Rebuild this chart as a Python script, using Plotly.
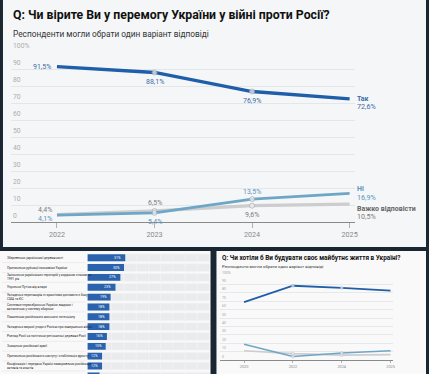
import plotly.graph_objects as go

W, H = 429, 374
FONT = "Roboto"


def px(x):
    return x / W


def py(y):
    return 1 - y / H


# ---------------- main chart data ----------------
main_title = "Q: Чи вірите Ви у перемогу України у війні проти Росії?"
main_subtitle = "Респонденти могли обрати один варіант відповіді"
years = [2022, 2023, 2024, 2025]
tak = [91.5, 88.1, 76.9, 72.6]
ni = [4.1, 5.4, 13.5, 16.9]
vazhko = [4.4, 6.5, 9.6, 10.5]
y_ticks = [0, 10, 20, 30, 40, 50, 60, 70, 80, 90, 100]
y_tick_labels = ["0", "10", "20", "30", "40", "50", "60", "70", "80", "90", "100%"]

# ---------------- bottom-left bar chart data ----------------
bar_labels = [
    "Збереження української державності",
    "Припинення руйнації економіки України",
    "Звільнення українських територій у кордонах станом на<br>1991 рік",
    "Усунення Путіна від влади",
    "Укладення переговорів з гарантіями допомоги з боку<br>США та ЄС",
    "Системне переозброєння України завдяки і<br>включенню у систему оборони",
    "Поваленню російського воєнного потенціалу",
    "Укладення мирної угоди з Росією про завершення війни",
    "Розпад Росії на політично-регіональні держави Росії",
    "Знищення російської армії",
    "Припинення російського наступу і стабілізація фронту",
    "Конфіскація і передача Україні заморожених російських<br>активів та коштів",
    "",
]
bar_values = [31, 30, 27, 23, 19, 18, 18, 18, 16, 15, 12, 12, 10]

# ---------------- bottom-right line chart data ----------------
r_title = "Q: Чи хотіли б Ви будувати своє майбутнє життя в Україні?"
r_subtitle = "Респонденти могли обрати один варіант відповіді"
r_years = ["2020", "2022", "2024", "2025"]
r_tak = [69.0, 88.4, 85.9, 82.7]
r_ni = [18.7, 4.1, 8.2, 10.9]
r_vazhko = [11.0, 7.6, 5.8, 6.4]

# ---------------- styles ----------------
DARK = "#1b2633"
MAIN_BG = "#f5f6f8"
PANEL_BG = "#f9f9fa"
C_TAK, C_NI, C_VZ = "#1f5ea8", "#6ea6c6", "#cdcdcd"
L_TAK, L_NI, L_VZ = "#3d6ca6", "#5b95ba", "#7c7c7c"

fig = go.Figure()

# panel backgrounds
fig.add_shape(type="rect", xref="paper", yref="paper", x0=px(3), x1=1, y0=py(247), y1=1,
              fillcolor=MAIN_BG, line_width=0, layer="below")
fig.add_shape(type="rect", xref="paper", yref="paper", x0=0, x1=px(212), y0=0, y1=py(251),
              fillcolor=PANEL_BG, line_width=0, layer="below")
fig.add_shape(type="rect", xref="paper", yref="paper", x0=px(218), x1=1, y0=0, y1=py(251),
              fillcolor=PANEL_BG, line_width=0, layer="below")

annotations = []

# y tick labels sitting above the gridlines
for tv, tl in zip(y_ticks, y_tick_labels):
    annotations.append(dict(x=px(11), y=tv, xref="paper", yref="y", text=tl, showarrow=False,
                            xanchor="left", yanchor="bottom", yshift=0,
                            font=dict(family=FONT, size=6.8, color="#adadad")))
    annotations.append(dict(x=px(221.7), y=tv, xref="paper", yref="y3", text=tl, showarrow=False,
                            xanchor="left", yanchor="bottom", yshift=-0.5,
                            font=dict(family=FONT, size=3.6, color="#a5a5a5")))

# ---------------- main line chart ----------------
series = [
    ("Важко відповісти", vazhko, C_VZ, L_VZ, 3.2, ["LA", "A", "B", None], -4.5),
    ("Ні", ni, C_NI, L_NI, 2.8, ["LB", "B", "A", None], 4),
    ("Так", tak, C_TAK, L_TAK, 3.3, ["L", "B", "B", None], 0),
]
msize = [0, 5, 5, 0]


def fmt(v):
    return f"{v:.1f}".replace(".", ",") + "%"


def place(code, small=False):
    k = 0.5 if small else 1.0
    if code == "L":
        return dict(xanchor="right", xshift=-4 * k, yshift=0)
    if code == "LA":
        return dict(xanchor="right", xshift=-3 * k, yshift=4.5 * k)
    if code == "LB":
        return dict(xanchor="right", xshift=-3 * k, yshift=-4 * k)
    if code == "A":
        return dict(xanchor="center", xshift=0, yshift=7.5 * k)
    if code == "B":
        return dict(xanchor="center", xshift=0, yshift=-9.3 * k)
    return None


for name, vals, col, lcol, lw, codes, end_shift in series:
    fig.add_trace(go.Scatter(
        x=years, y=vals, mode="lines+markers", name=name,
        line=dict(color=col, width=lw),
        marker=dict(size=msize, color=MAIN_BG, line=dict(color="#a9aeb5", width=1)),
        xaxis="x", yaxis="y", cliponaxis=False, hoverinfo="skip", showlegend=False,
    ))
    for xv, yv, code in zip(years, vals, codes):
        p = place(code)
        if p is None:
            continue
        annotations.append(dict(x=xv, y=yv, xref="x", yref="y", text=fmt(yv), showarrow=False,
                                font=dict(family=FONT, size=7, color=lcol), yanchor="middle", **p))
    annotations.append(dict(x=years[-1], y=vals[-1], xref="x", yref="y", text=f"<b>{name}</b>",
                            showarrow=False, xanchor="left", yanchor="middle", xshift=5,
                            yshift=end_shift,
                            font=dict(family=FONT, size=7, color=lcol if name != "Важко відповісти" else "#666")))
    annotations.append(dict(x=years[-1], y=vals[-1], xref="x", yref="y", text=fmt(vals[-1]),
                            showarrow=False, xanchor="left", yanchor="middle", xshift=5,
                            yshift=end_shift - 8, font=dict(family=FONT, size=7.2, color=lcol)))

annotations.append(dict(x=px(11), y=py(14.5), xref="paper", yref="paper", text=f"<b>{main_title}</b>",
                        showarrow=False, xanchor="left", yanchor="middle",
                        font=dict(family=FONT, size=12.3, color="#111111")))
annotations.append(dict(x=px(11), y=py(33.5), xref="paper", yref="paper", text=main_subtitle,
                        showarrow=False, xanchor="left", yanchor="middle",
                        font=dict(family=FONT, size=8.3, color="#333333")))

# ---------------- bottom-left bar chart ----------------
n = len(bar_values)
idx = list(range(n))
track_max = 100
seg = 10
for k in range(track_max // seg):
    fig.add_trace(go.Bar(
        y=idx, x=[seg] * n, base=[k * seg] * n, orientation="h", width=0.76, opacity=1,
        marker=dict(color="#eaebed", line=dict(color="#f3f4f6", width=0.6)),
        xaxis="x2", yaxis="y2", hoverinfo="skip", showlegend=False,
    ))
fig.add_trace(go.Bar(
    y=idx, x=bar_values, orientation="h", width=0.7, opacity=1,
    marker=dict(color="#2a62ad", line_width=0),
    xaxis="x2", yaxis="y2", hoverinfo="skip", showlegend=False,
))
for i, (lab, v) in enumerate(zip(bar_labels, bar_values)):
    annotations.append(dict(x=v, y=i, xref="x2", yref="y2", text=f"{v}%", showarrow=False,
                            xanchor="right", yanchor="middle", xshift=-2,
                            font=dict(family=FONT, size=3.6, color="white")))
    if not lab:
        continue
    annotations.append(dict(x=px(5), y=i, xref="paper", yref="y2", text=lab, showarrow=False,
                            xanchor="left", yanchor="middle", align="left",
                            font=dict(family=FONT, size=3.2, color="#222222")))
    fig.add_shape(type="line", xref="paper", yref="y2", x0=px(2), x1=px(86), y0=i + 0.5, y1=i + 0.5,
                  line=dict(color="#e4e4e4", width=0.6))

# ---------------- bottom-right line chart ----------------
r_series = [
    ("Важко відповісти", r_vazhko, C_VZ, L_VZ, 1.7, ["L", "A", "B", None], -3.3),
    ("Ні", r_ni, C_NI, L_NI, 1.5, ["L", "B", "A", None], 2.3),
    ("Так", r_tak, C_TAK, L_TAK, 1.8, ["L", "B", "B", None], 0),
]
r_msize = [0, 3, 3, 0]
for name, vals, col, lcol, lw, codes, end_shift in r_series:
    fig.add_trace(go.Scatter(
        x=r_years, y=vals, mode="lines+markers", name=name,
        line=dict(color=col, width=lw),
        marker=dict(size=r_msize, color=PANEL_BG, line=dict(color="#a9aeb5", width=0.6)),
        xaxis="x3", yaxis="y3", cliponaxis=False, hoverinfo="skip", showlegend=False,
    ))
    for xv, yv, code in zip(r_years, vals, codes):
        p = place(code, small=True)
        if p is None:
            continue
        annotations.append(dict(x=xv, y=yv, xref="x3", yref="y3", text=fmt(yv), showarrow=False,
                                font=dict(family=FONT, size=3.9, color=lcol), yanchor="middle", **p))
    annotations.append(dict(x=r_years[-1], y=vals[-1], xref="x3", yref="y3", text=f"<b>{name}</b>",
                            showarrow=False, xanchor="left", yanchor="middle", xshift=3,
                            yshift=end_shift,
                            font=dict(family=FONT, size=3.9, color=lcol if name != "Важко відповісти" else "#555")))
    annotations.append(dict(x=r_years[-1], y=vals[-1], xref="x3", yref="y3", text=fmt(vals[-1]),
                            showarrow=False, xanchor="left", yanchor="middle", xshift=3,
                            yshift=end_shift - 4, font=dict(family=FONT, size=3.9, color=lcol)))

annotations.append(dict(x=px(221.5), y=py(257.7), xref="paper", yref="paper", text=f"<b>{r_title}</b>",
                        showarrow=False, xanchor="left", yanchor="middle",
                        font=dict(family=FONT, size=6.4, color="#111111")))
annotations.append(dict(x=px(221.5), y=py(266.3), xref="paper", yref="paper", text=r_subtitle,
                        showarrow=False, xanchor="left", yanchor="middle",
                        font=dict(family=FONT, size=4.3, color="#333333")))

fig.update_layout(
    width=W, height=H,
    margin=dict(l=0, r=0, t=0, b=0),
    paper_bgcolor=DARK, plot_bgcolor="rgba(0,0,0,0)",
    barmode="overlay", showlegend=False,
    font=dict(family=FONT),
    annotations=annotations,
    # main
    xaxis=dict(domain=[px(11), px(357)], range=[2021.528, 2025.05], tickvals=years,
               ticktext=[str(y) for y in years], showgrid=False, zeroline=False,
               showline=True, linecolor="#8a8a8a", linewidth=1,
               ticks="outside", ticklen=5, tickcolor="#b0b0b0", tickwidth=1,
               tickfont=dict(family=FONT, size=7.2, color="#8a8a8a"), anchor="y"),
    yaxis=dict(domain=[py(222), py(52.3)], range=[0, 100], tickvals=y_ticks,
               showticklabels=False, showgrid=True, gridcolor="#e3e6ea", gridwidth=1,
               zeroline=False, showline=False, ticks="", anchor="x"),
    # bar chart
    xaxis2=dict(domain=[px(88), px(211)], range=[0, 100], visible=False, anchor="y2"),
    yaxis2=dict(domain=[0, py(251)], range=[11.81, -0.68], visible=False, anchor="x2"),
    # right line chart
    xaxis3=dict(domain=[px(221.7), px(396)], type="category", range=[-0.49, 3.055],
                showgrid=False, zeroline=False, showline=True, linecolor="#8a8a8a", linewidth=0.8,
                ticks="outside", ticklen=2.5, tickcolor="#b0b0b0", tickwidth=0.6,
                tickfont=dict(family=FONT, size=3.8, color="#8a8a8a"), anchor="y3"),
    yaxis3=dict(domain=[py(360), py(276)], range=[0, 100], tickvals=y_ticks,
                showticklabels=False, showgrid=True, gridcolor="#e6e8eb", gridwidth=0.6,
                zeroline=False, showline=False, ticks="", anchor="x3"),
)

fig.write_html(
    "out.html",
    config={"displayModeBar": False},
    post_script="document.body.style.margin='0';document.body.style.padding='0';"
                "document.body.style.overflow='hidden';document.body.style.background='" + DARK + "';",
)
